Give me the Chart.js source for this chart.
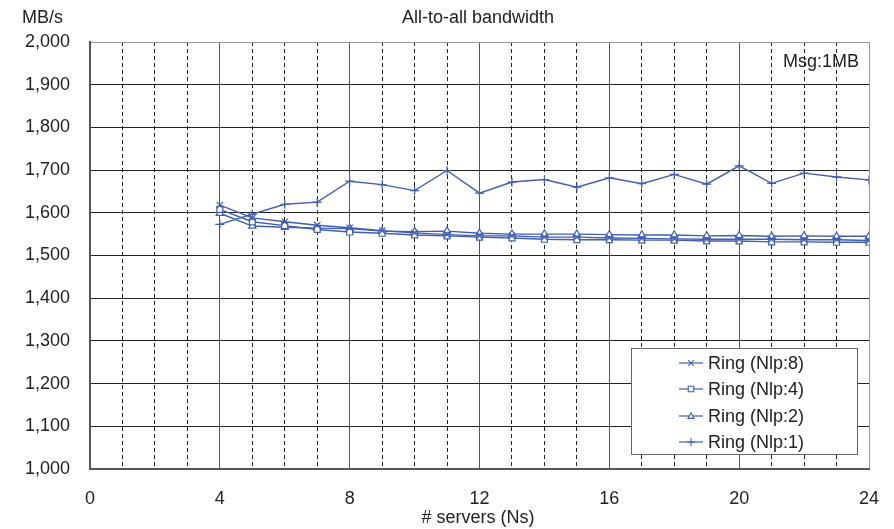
<!DOCTYPE html>
<html>
<head>
<meta charset="utf-8">
<script src="https://cdn.jsdelivr.net/npm/chart.js@4/dist/chart.umd.min.js"></script>
<style>
  html, body { margin: 0; padding: 0; background: #fff; }
  #wrap { width: 894px; height: 529px; position: relative; }
</style>
</head>
<body>
<div id="wrap"><canvas id="c" width="894" height="529"></canvas></div>
<script>
// ---- data ----
const servers = [4,5,6,7,8,9,10,11,12,13,14,15,16,17,18,19,20,21,22,23,24];
const nlp8 = [1618,1588,1579,1571,1565,1558,1553,1549,1546,1546,1543,1543,1541,1540,1539,1538,1538,1538,1537,1537,1535];
const nlp4 = [1608,1579,1570,1561,1555,1552,1548,1546,1543,1541,1538,1537,1537,1536,1536,1534,1534,1532,1532,1531,1531];
const nlp2 = [1599,1569,1566,1564,1563,1557,1556,1557,1552,1550,1550,1550,1549,1548,1548,1546,1547,1545,1546,1545,1545];
const nlp1 = [1573,1597,1620,1625,1674,1666,1652,1699,1646,1672,1678,1660,1682,1668,1690,1667,1710,1669,1693,1684,1677];
const seriesNames = ['Ring (Nlp:8)','Ring (Nlp:4)','Ring (Nlp:2)','Ring (Nlp:1)'];
const yTicks = [1000,1100,1200,1300,1400,1500,1600,1700,1800,1900,2000];
const xTickLabels = [0,4,8,12,16,20,24];

const FONT = "'Liberation Sans', Arial, sans-serif";
const BLUE = '#3f5fb5';
const styles = ['crossRot','rect','triangle','cross'];
const seriesData = [nlp8, nlp4, nlp2, nlp1];

const datasets = seriesData.map((vals, i) => ({
  label: seriesNames[i],
  data: servers.map((x, j) => ({x: x, y: vals[j]})),
  borderColor: BLUE,
  backgroundColor: '#fff',
  borderWidth: 1.4,
  pointStyle: styles[i],
  pointRadius: styles[i] === 'cross' || styles[i] === 'crossRot' ? 4.5 : 4.2,
  pointBorderWidth: 1.2,
  pointBackgroundColor: '#fff',
  pointBorderColor: BLUE,
  tension: 0
}));

function drawMarker(ctx, style, x, y, r) {
  ctx.save();
  ctx.strokeStyle = BLUE; ctx.fillStyle = '#fff'; ctx.lineWidth = 1.1;
  ctx.beginPath();
  if (style === 'cross') {
    ctx.moveTo(x - r, y); ctx.lineTo(x + r, y); ctx.moveTo(x, y - r); ctx.lineTo(x, y + r);
    ctx.stroke();
  } else if (style === 'crossRot') {
    ctx.moveTo(x - r*0.7, y - r*0.7); ctx.lineTo(x + r*0.7, y + r*0.7);
    ctx.moveTo(x + r*0.7, y - r*0.7); ctx.lineTo(x - r*0.7, y + r*0.7);
    ctx.stroke();
  } else if (style === 'rect') {
    ctx.rect(x - r*0.7, y - r*0.7, r*1.4, r*1.4); ctx.fill(); ctx.stroke();
  } else if (style === 'triangle') {
    ctx.moveTo(x, y - r*0.8); ctx.lineTo(x + r*0.75, y + r*0.6); ctx.lineTo(x - r*0.75, y + r*0.6); ctx.closePath();
    ctx.fill(); ctx.stroke();
  }
  ctx.restore();
}

const textPlugin = {
  id: 'texts',
  afterDraw(chart) {
    const ctx = chart.ctx;
    ctx.save();
    ctx.fillStyle = '#222';
    ctx.font = '18px ' + FONT;
    ctx.textBaseline = 'middle';
    ctx.textAlign = 'center';
    ctx.fillText('All-to-all bandwidth', 478, 18);
    ctx.fillText('# servers (Ns)', 478, 518);
    ctx.textAlign = 'left';
    ctx.fillText('MB/s', 22, 18);
    ctx.textAlign = 'right';
    ctx.fillText('Msg:1MB', 859, 62);

    // legend
    const lx = 631, ly = 348, lw = 226, lh = 106;
    ctx.fillStyle = '#fff';
    ctx.fillRect(lx, ly, lw, lh);
    ctx.strokeStyle = '#666'; ctx.lineWidth = 1;
    ctx.strokeRect(lx + 0.5, ly + 0.5, lw, lh);
    const rowY = [363, 389, 416, 442];
    seriesNames.forEach((name, i) => {
      const y = rowY[i];
      ctx.strokeStyle = BLUE; ctx.lineWidth = 1.2;
      ctx.beginPath(); ctx.moveTo(679, y); ctx.lineTo(703, y); ctx.stroke();
      drawMarker(ctx, styles[i], 691, y, 4);
      ctx.fillStyle = '#222';
      ctx.textAlign = 'left';
      ctx.font = '18px ' + FONT;
      ctx.fillText(name, 708, y + 1);
    });
    ctx.restore();
  }
};

new Chart(document.getElementById('c'), {
  type: 'line',
  data: { datasets: datasets },
  options: {
    responsive: false,
    animation: false,
    events: [],
    layout: { padding: { left: 0, right: 25, top: 42, bottom: 0 } },
    plugins: { legend: { display: false }, tooltip: { enabled: false }, title: { display: false } },
    scales: {
      x: {
        type: 'linear', min: 0, max: 24,
        afterFit(s) { s.height = 60; s.paddingRight = 0; },
        ticks: {
          stepSize: 1, autoSkip: false, maxRotation: 0, padding: 19,
          color: '#222', font: { family: FONT, size: 18 },
          callback: v => xTickLabels.includes(v) ? String(v) : ''
        },
        grid: {
          drawTicks: false,
          color: c => {
            const v = c.tick ? c.tick.value : 0;
            if (v === 24) return '#999';
            return v % 4 === 0 ? '#555' : '#222';
          },
          lineWidth: 1
        },
        border: {
          display: true, color: '#555', width: 2,
          dash: c => (c.tick && c.tick.value % 4 !== 0) ? [4, 3] : []
        }
      },
      y: {
        min: 1000, max: 2000,
        afterFit(s) { s.width = 90; },
        afterBuildTicks(s) { s.ticks = yTicks.map(v => ({value: v})); },
        ticks: {
          padding: 20, color: '#222', font: { family: FONT, size: 18 },
          callback: v => v.toLocaleString('en-US')
        },
        grid: {
          drawTicks: false,
          color: c => (c.tick && c.tick.value === 2000) ? '#999' : '#222',
          lineWidth: 1
        },
        border: { display: true, color: '#555', width: 2 }
      }
    }
  },
  plugins: [textPlugin]
});
</script>
</body>
</html>
